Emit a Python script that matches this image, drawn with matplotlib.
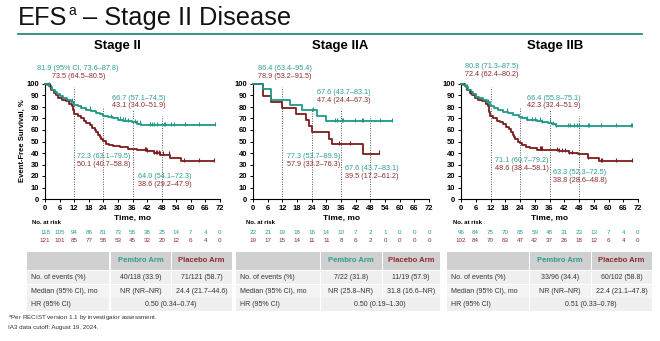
import matplotlib
matplotlib.use("Agg")
import matplotlib.pyplot as plt
from matplotlib.patches import Rectangle
from matplotlib.lines import Line2D
import matplotlib.transforms as mtransforms
import numpy as np

plt.rcParams['font.family'] = ['Liberation Sans', 'DejaVu Sans']
plt.rcParams['mathtext.fontset'] = 'custom'
plt.rcParams['mathtext.rm'] = 'Liberation Sans'

W, H = 660, 341
TEAL = '#1d9988'
RED = '#7c1c1e'
TEAL_TXT = '#2a9d8f'
RED_TXT = '#8e2a2a'

panels = ['Stage II', 'Stage IIA', 'Stage IIB']
risk_times = list(range(0, 73, 6))

# Stage II
s2_pem_t = [1, 2, 3, 4, 5, 6, 7.5, 9, 10.5, 11.8, 13.5, 15, 17, 19, 21, 22.5, 23.8, 26, 28, 30, 32, 34, 35.8, 38, 39.5]
s2_pem_s = [99, 97, 95, 93, 91, 89.5, 88, 86.5, 84.5, 81.9, 80.5, 79, 77.5, 76.5, 75, 73.5, 72.3, 71, 70, 69, 68, 67.5, 66.7, 65.5, 64.0]
s2_pem_c = [1.8, 11, 18.5, 27, 31, 32, 33, 34, 37, 38, 39, 43, 44, 45, 46, 49, 49.5, 52, 53, 57.5, 63.5, 70]
s2_pem_end = 70
s2_pla_t = [1.5, 2.5, 3.5, 4.5, 5.5, 7, 8.5, 10, 11, 11.5, 12, 13.5, 15, 16, 17, 18.5, 19.5, 20.5, 21, 21.8, 22.5, 23.2, 23.8,
            25, 26.5, 28, 31, 34, 38, 42, 45, 47.5, 51.5, 56]
s2_pla_s = [98, 95, 92, 90, 88, 86.5, 85, 83, 81, 77, 73.5, 72, 70, 68, 66, 64, 62, 60, 58, 56, 54, 52, 50.1,
            48, 47, 46, 45, 43.1, 42.5, 41.5, 40, 38.6, 36, 33]
s2_pla_c = [2, 41, 41.5, 42, 45, 45.5, 46, 47, 47.5, 48.5, 51, 57, 63.5, 69.5]
s2_pla_end = 69.5

# Stage IIA
s2a_pem_t = [4.2, 7.2, 15.2, 20, 26, 30]
s2a_pem_s = [95.5, 86.4, 81.8, 77.3, 72.5, 67.6]
s2a_pem_c = [24.5, 33.4, 34.2, 36.5, 37, 41.8, 44.5, 45, 51.8, 56.8]
s2a_pem_end = 56.8
s2a_pla_t = [4.2, 7.2, 11.8, 17.6, 21.7, 23, 24, 30.9, 32.2, 45.2]
s2a_pla_s = [89.5, 84.2, 78.9, 73.7, 68.4, 63.2, 57.9, 52.6, 47.4, 39.5]
s2a_pla_c = [35, 39.5, 51.4]
s2a_pla_end = 51.4

# Stage IIB
s2b_pem_t = [1, 2, 3, 4, 5, 6, 7.5, 9, 10.5, 11.8, 13.5, 15, 17, 19, 21, 23.5, 25, 27, 29, 31, 33, 35.5, 37, 38.5]
s2b_pem_s = [99, 97, 95, 93, 91, 89, 87.5, 86, 84, 80.8, 79, 77.5, 76, 74.5, 73, 71.1, 70, 69, 68.5, 68, 67, 66.4, 65, 63.3]
s2b_pem_c = [2.3, 11.1, 18.8, 27, 29, 30, 32, 33, 36, 37.5, 38.6, 43.6, 44.5, 46, 47, 48, 51.5, 52, 56.9, 62.9, 69.2, 69.5]
s2b_pem_end = 69.5
s2b_pla_t = [1.5, 2.5, 3.5, 4.5, 5.5, 7, 8.5, 10, 11, 11.5, 11.9, 13, 14.5, 16, 17, 18.5, 19.5, 20.5, 21, 21.5, 22, 23, 23.8,
             25, 26.5, 28, 31, 34, 40, 44, 47.5, 51.5, 56]
s2b_pla_s = [98, 95, 92, 90, 88, 86.5, 85, 83, 81, 76, 72.4, 70, 68, 67, 65.5, 63, 61, 58.5, 56, 54, 52, 50, 48.6,
             47, 45.5, 44, 43, 42.3, 41.5, 40, 38.8, 35.5, 33]
s2b_pla_c = [3.7, 32, 32.5, 33, 39, 40, 41, 42.5, 44, 45, 51.5, 57, 57.3, 63, 69.4]
s2b_pla_end = 69.4

curves = [
    (s2_pem_t, s2_pem_s, s2_pem_c, s2_pem_end, s2_pla_t, s2_pla_s, s2_pla_c, s2_pla_end),
    (s2a_pem_t, s2a_pem_s, s2a_pem_c, s2a_pem_end, s2a_pla_t, s2a_pla_s, s2a_pla_c, s2a_pla_end),
    (s2b_pem_t, s2b_pem_s, s2b_pem_c, s2b_pem_end, s2b_pla_t, s2b_pla_s, s2b_pla_c, s2b_pla_end),
]

# landmark estimates (pembro, placebo) at 12/24/36/48 mo
landmarks = [
    [("81.9 (95% CI, 73.6\u201387.8)", "73.5 (64.5\u201380.5)"), ("72.3 (63.1\u201379.5)", "50.1 (40.7\u201358.8)"),
     ("66.7 (57.1\u201374.5)", "43.1 (34.0\u201351.9)"), ("64.0 (54.1\u201372.3)", "38.6 (29.2\u201347.9)")],
    [("86.4 (63.4\u201395.4)", "78.9 (53.2\u201391.5)"), ("77.3 (53.7\u201389.9)", "57.9 (33.2\u201376.3)"),
     ("67.6 (43.7\u201383.1)", "47.4 (24.4\u201367.3)"), ("67.6 (43.7\u201383.1)", "39.5 (17.2\u201361.2)")],
    [("80.8 (71.3\u201387.5)", "72.4 (62.4\u201380.2)"), ("71.1 (60.7\u201379.2)", "48.6 (38.4\u201358.1)"),
     ("66.4 (55.8\u201375.1)", "42.3 (32.4\u201351.9)"), ("63.3 (52.3\u201372.5)", "38.8 (28.6\u201348.8)")],
]

risk_pem = [
    [118, 105, 94, 86, 81, 73, 58, 38, 25, 14, 7, 4, 0],
    [22, 21, 19, 18, 16, 14, 10, 7, 2, 1, 0, 0, 0],
    [96, 84, 75, 70, 65, 59, 48, 31, 23, 13, 7, 4, 0],
]
risk_pla = [
    [121, 101, 85, 77, 58, 53, 45, 32, 20, 12, 6, 4, 0],
    [19, 17, 15, 14, 11, 11, 8, 6, 2, 0, 0, 0, 0],
    [102, 84, 70, 63, 47, 42, 37, 26, 18, 12, 6, 4, 0],
]

events = [("40/118 (33.9)", "71/121 (58.7)"), ("7/22 (31.8)", "11/19 (57.9)"), ("33/96 (34.4)", "60/102 (58.8)")]
medians = [("NR (NR\u2013NR)", "24.4 (21.7\u201344.6)"), ("NR (25.8\u2013NR)", "31.8 (16.6\u2013NR)"),
           ("NR (NR\u2013NR)", "22.4 (21.1\u201347.8)")]
hrs = ["0.50 (0.34\u20130.74)", "0.50 (0.19\u20131.30)", "0.51 (0.33\u20130.78)"]


def fx(px):
    return px / W


def fy(py):
    return 1 - py / H


fig = plt.figure(figsize=(W / 100, H / 100), dpi=100)
renderer = fig.canvas.get_renderer()

# heading: "EFS" + small superscript "a" + rest
t1 = fig.text(fx(18), fy(25), "EFS", fontsize=18.3, va='baseline', ha='left', color='#111111')
x1 = t1.get_window_extent(renderer).x1
t2 = fig.text(x1 / W + 0.001, fy(15), "a", fontsize=10, va='baseline', ha='left', color='#111111')
x2 = t2.get_window_extent(renderer).x1
fig.text(x2 / W, fy(25), " \u2013 Stage II Disease", fontsize=18.3, va='baseline', ha='left', color='#111111')
fig.add_artist(Line2D([fx(18), fx(642)], [fy(33.5), fy(33.5)], color='#2b8a82', lw=1.3))

ax_left = [45, 253, 461]
ax_width = [175, 176, 177]
ax_top, ax_bot = 84, 199
title_x = [117, 340, 555]
dot_tops = [97, 80, 77, 72]
risk_label_x = [32, 246, 453]
# annotation anchor positions (px): (x, y of teal line)
ann_pos = [
    [(37, 69), (77, 157), (112, 98), (138, 176)],
    [(258, 68), (287, 156), (317, 93), (345, 169)],
    [(465, 67), (495, 160), (527, 98), (553, 173)],
]

for i in range(3):
    ax = fig.add_axes([fx(ax_left[i]), fy(ax_bot), ax_width[i] / W, (ax_bot - ax_top) / H])
    pt, ps, pc, pend, lt, ls, lc, lend = curves[i]
    for t, s, c, end, col in ((lt, ls, lc, lend, RED), (pt, ps, pc, pend, TEAL)):
        tt = np.r_[0, t, end]
        ss = np.r_[100, s, s[-1]]
        ax.step(tt, ss, where='post', color=col, lw=1.3, clip_on=False, zorder=3)
        idx = np.searchsorted(np.r_[0, t], c, side='right') - 1
        cy = np.r_[100, s][idx]
        ax.plot(c, cy + 1.2, ls='none', marker='|', ms=3.5, mew=0.8, color=col, clip_on=False, zorder=4)
    for m, top in zip([12, 24, 36, 48], dot_tops):
        ax.plot([m, m], [0, top], ls=(0, (1, 1.5)), lw=0.7, color='#555555', zorder=1)

    ax.set_xlim(0, 72)
    ax.set_ylim(0, 100)
    ax.set_xticks(risk_times)
    ax.set_yticks(range(0, 101, 10))
    ax.tick_params(length=2.5, width=0.7, pad=1.5, labelsize=5.5)
    for lab in ax.get_xticklabels() + ax.get_yticklabels():
        lab.set_fontweight('bold')
    for sp in ('top', 'right'):
        ax.spines[sp].set_visible(False)
    for sp in ('left', 'bottom'):
        ax.spines[sp].set_linewidth(0.8)
    ax.patch.set_alpha(0)

    fig.text(fx(title_x[i]), fy(46), panels[i], fontsize=9.5, fontweight='bold', ha='center', va='center')
    cx = ax_left[i] + ax_width[i] / 2
    fig.text(fx(cx), fy(218), "Time, mo", fontsize=6, fontweight='bold', ha='center', va='center')

    # landmark labels
    for k in range(4):
        x0, y0 = ann_pos[i][k]
        dx = 15 if (i == 0 and k == 0) else 0
        fig.text(fx(x0), fy(y0), landmarks[i][k][0], fontsize=5.2, color=TEAL_TXT, ha='left', va='center')
        fig.text(fx(x0 + dx), fy(y0 + 8), landmarks[i][k][1], fontsize=5.2, color=RED_TXT, ha='left', va='center')

    # numbers at risk
    trans = mtransforms.blended_transform_factory(ax.transData, fig.transFigure)
    fig.text(fx(risk_label_x[i]), fy(222), "No. at risk", fontsize=4.3, fontweight='bold', ha='left', va='center')
    for t, a, b in zip(risk_times, risk_pem[i], risk_pla[i]):
        ax.text(t, fy(232), str(a), transform=trans, fontsize=4.5, color=TEAL_TXT, ha='center', va='center')
        ax.text(t, fy(241), str(b), transform=trans, fontsize=4.5, color=RED_TXT, ha='center', va='center')

# summary tables
col_edges = [(27, 110, 171, 232), (236, 320, 382, 440), (447, 529, 591, 652)]
row_edges = [(252, 270), (271, 284), (284.8, 297.6), (298.4, 311)]
row_colors = ['#d0d0d0', '#efefef', '#f4f4f4', '#efefef']


def cell(x0, x1, y0, y1, color):
    fig.add_artist(Rectangle((fx(x0), fy(y1)), (x1 - x0) / W, (y1 - y0) / H,
                             transform=fig.transFigure, facecolor=color, edgecolor='none'))


for i in range(3):
    c0, c1, c2, c3 = col_edges[i]
    for r, (y0, y1) in enumerate(row_edges):
        if r == 3:
            cell(c0, c1 - 0.5, y0, y1, row_colors[r])
            cell(c1 + 0.5, c3, y0, y1, row_colors[r])
        else:
            cell(c0, c1 - 0.5, y0, y1, row_colors[r])
            cell(c1 + 0.5, c2 - 0.5, y0, y1, row_colors[r])
            cell(c2 + 0.5, c3, y0, y1, row_colors[r])
    ym = [(a + b) / 2 for a, b in row_edges]
    fig.text(fx((c1 + c2) / 2), fy(ym[0]), "Pembro Arm", fontsize=5.5, fontweight='bold', color=TEAL_TXT,
             ha='center', va='center')
    fig.text(fx((c2 + c3) / 2), fy(ym[0]), "Placebo Arm", fontsize=5.5, fontweight='bold', color=RED_TXT,
             ha='center', va='center')
    labels = ["No. of events (%)", "Median (95% CI), mo", "HR (95% CI)"]
    for r, lab in enumerate(labels):
        fig.text(fx(c0 + 4), fy(ym[r + 1]), lab, fontsize=5, color='#333333', ha='left', va='center')
    fig.text(fx((c1 + c2) / 2), fy(ym[1]), events[i][0], fontsize=5, color='#333333', ha='center', va='center')
    fig.text(fx((c2 + c3) / 2), fy(ym[1]), events[i][1], fontsize=5, color='#333333', ha='center', va='center')
    fig.text(fx((c1 + c2) / 2), fy(ym[2]), medians[i][0], fontsize=5, color='#333333', ha='center', va='center')
    fig.text(fx((c2 + c3) / 2), fy(ym[2]), medians[i][1], fontsize=5, color='#333333', ha='center', va='center')
    fig.text(fx((c1 + c3) / 2), fy(ym[3]), hrs[i], fontsize=5, color='#333333', ha='center', va='center')

fig.text(fx(22), fy(141), "Event-Free Survival, %", fontsize=5.5, fontweight='bold', rotation=90,
         ha='center', va='center')
fig.text(fx(8), fy(318), r"$^{\mathrm{a}}$Per RECIST version 1.1 by investigator assessment.", fontsize=4.5,
         color='#333333', ha='left', va='center')
fig.text(fx(8), fy(328), "IA3 data cutoff: August 19, 2024.", fontsize=4.5, color='#333333', ha='left', va='center')

fig.savefig("out.png", dpi=100)
